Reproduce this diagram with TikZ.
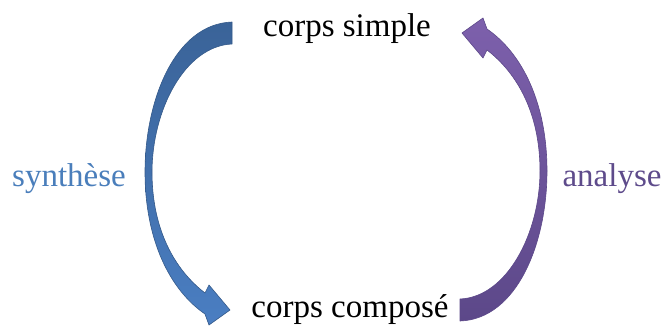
\documentclass[tikz,border=0pt]{standalone}
\usepackage{fontspec}
\setmainfont{Liberation Serif}
\definecolor{synblue}{HTML}{4A7EBB}
\definecolor{synbluetop}{HTML}{3A6398}
\definecolor{synbluebot}{HTML}{4A7EC2}
\definecolor{anaviolet}{HTML}{5E4B8B}
\definecolor{anaviolettop}{HTML}{7D60AC}
\definecolor{anavioletbot}{HTML}{5C4889}
\begin{document}
\begin{tikzpicture}[x=1pt,y=-1pt,line join=round,
    lbl/.style={font=\fontsize{33}{38}\selectfont,anchor=base,inner sep=0pt},
    bigarrow/.style={line width=0.6pt}]
	\useasboundingbox (0,0) rectangle (664,325);
	\node[lbl] (simple) at (347,36) {corps simple};
	\node[lbl] (compose) at (350,317) {corps composé};
	\node[lbl,text=synblue] (synthese) at (69,186) {synthèse};
	\node[lbl,text=anaviolet] (analyse) at (612,186) {analyse};
	% synthese: simple -> compose
	\draw[bigarrow,draw=synbluetop!90!black,top color=synbluetop,bottom color=synbluebot]
	(232,22) .. controls (175,24) and (145,100) .. (145,172)
	.. controls (145,240) and (170,290) .. (205,314) -- (209,325) -- (230,310)
	-- (209,285) -- (205,293) .. controls (175,270) and (152,230) .. (152,172)
	.. controls (152,110) and (185,46) .. (232,44) -- cycle;
	% analyse: compose -> simple
	\draw[bigarrow,draw=anavioletbot,top color=anaviolettop,bottom color=anavioletbot]
	(460,321) .. controls (517,319) and (547,243) .. (547,171)
	.. controls (547,103) and (522,53) .. (487,29) -- (483,18) -- (462,33)
	-- (483,58) -- (487,50) .. controls (517,73) and (540,113) .. (540,171)
	.. controls (540,233) and (507,297) .. (460,299) -- cycle;
\end{tikzpicture}
\end{document}
